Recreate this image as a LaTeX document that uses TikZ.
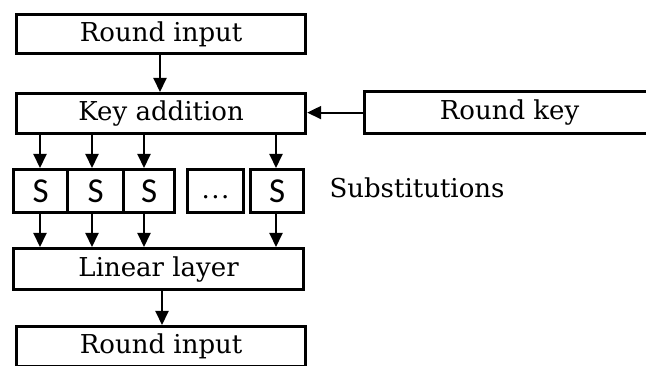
\documentclass[tikz,border=0pt]{standalone}
\usepackage{fontspec}
\setmainfont{DejaVu Serif}
\newfontfamily\sboxfont{Carlito}
\usetikzlibrary{arrows.meta}
\begin{document}
\begin{tikzpicture}[x=1pt,y=-1pt,
  box/.style={draw, line width=3.2pt, anchor=north west, inner sep=0pt, font=\fontsize{26}{30}\selectfont},
  sbox/.style={box, font=\sboxfont\fontsize{35}{38}\selectfont, minimum height=43pt},
  arr/.style={line width=2pt, -{Triangle[length=14pt,width=13pt]}}]
\useasboundingbox (0,0) rectangle (646,366);
\node[box, minimum width=289pt, minimum height=39pt] (ri) at (15,13) {Round input};
\node[box, minimum width=289pt, minimum height=40pt] (ka) at (15,92) {Key addition};
\node[box, minimum width=290pt, minimum height=42pt] (rk) at (363,90) {Round key};
\node[sbox, minimum width=54pt] (s1) at (12,168) {S};
\node[sbox, minimum width=56pt] (s2) at (66,168) {S};
\node[sbox, minimum width=51pt] (s3) at (122,168) {S};
\node[sbox, minimum width=56pt, font=\fontsize{26}{30}\selectfont] (sd) at (186,168) {\smash{\raisebox{-7pt}{.\kern1.5pt.\kern1.5pt.}}};
\node[sbox, minimum width=53pt] (s4) at (249,168) {S};
\node[anchor=west, font=\fontsize{26}{30}\selectfont] (sub) at (326,188) {Substitutions};
\node[box, minimum width=290pt, minimum height=41pt] (ll) at (12,247) {Linear layer};
\node[box, minimum width=289pt, minimum height=40pt] (ro) at (15,325) {Round input};
\draw[arr] (ri.south -| 160,0) -- (ka.north -| 160,0);
\draw[arr] (rk.west) -- (rk.west -| ka.east);
\foreach \n/\x in {s1/40,s2/92,s3/144,s4/276}{
  \draw[arr] (ka.south -| \x,0) -- (\n.north -| \x,0);
  \draw[arr] (\n.south -| \x,0) -- (ll.north -| \x,0);
}
\draw[arr] (ll.south -| 162,0) -- (ro.north -| 162,0);
\end{tikzpicture}
\end{document}
